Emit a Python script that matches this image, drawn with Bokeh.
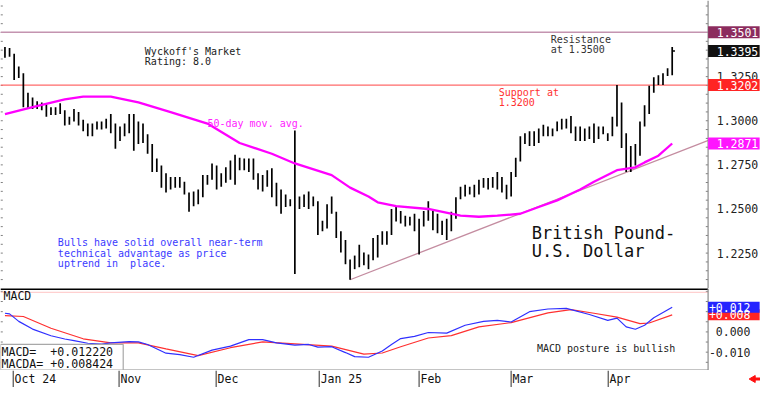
from bokeh.plotting import figure
from bokeh.layouts import column
from bokeh.models import Range1d
from bokeh.core.properties import value
from bokeh.embed import file_html
from bokeh.resources import INLINE

# ---------------- data ----------------
high = [1.3418, 1.3412, 1.3379, 1.3308, 1.3269, 1.3159, 1.3132, 1.3110, 1.3104, 1.3093,
        1.3077, 1.3077, 1.3099, 1.3060, 1.3022, 1.3066, 1.3049, 1.3005, 1.2984, 1.2984,
        1.2995, 1.2995, 1.3011, 1.3038, 1.2984, 1.2967, 1.2984, 1.3038, 1.3038, 1.2995,
        1.2984, 1.2923, 1.2868, 1.2786, 1.2747, 1.2703, 1.2681, 1.2681, 1.2681, 1.2654,
        1.2593, 1.2599, 1.2610, 1.2692, 1.2692, 1.2758, 1.2747, 1.2703, 1.2736, 1.2775,
        1.2808, 1.2791, 1.2786, 1.2786, 1.2786, 1.2703, 1.2692, 1.2720, 1.2731, 1.2648,
        1.2610, 1.2582, 1.2555, 1.2945, 1.2571, 1.2582, 1.2599, 1.2571, 1.2544, 1.2434,
        1.2527, 1.2571, 1.2484, 1.2374, 1.2324, 1.2214, 1.2236, 1.2297, 1.2253, 1.2242,
        1.2335, 1.2352, 1.2374, 1.2374, 1.2500, 1.2516, 1.2489, 1.2462, 1.2456, 1.2473,
        1.2445, 1.2489, 1.2544, 1.2489, 1.2473, 1.2434, 1.2445, 1.2484, 1.2566, 1.2626,
        1.2637, 1.2626, 1.2637, 1.2665, 1.2676, 1.2676, 1.2681, 1.2709, 1.2681, 1.2637,
        1.2709, 1.2791, 1.2912, 1.2929, 1.2940, 1.2940, 1.2956, 1.2978, 1.2967, 1.2956,
        1.2995, 1.3011, 1.3011, 1.3027, 1.2967, 1.2967, 1.2956, 1.2967, 1.2984, 1.2967,
        1.2967, 1.2929, 1.3022, 1.3203, 1.3104, 1.2929, 1.2857, 1.2868, 1.2995, 1.3088,
        1.3198, 1.3247, 1.3258, 1.3269, 1.3297, 1.3418]
low = [1.3357, 1.3363, 1.3231, 1.3242, 1.3077, 1.3066, 1.3066, 1.3066, 1.3060, 1.3022,
       1.3033, 1.3033, 1.3038, 1.2973, 1.2978, 1.2995, 1.2973, 1.2940, 1.2912, 1.2912,
       1.2951, 1.2951, 1.2956, 1.2929, 1.2841, 1.2885, 1.2912, 1.2929, 1.2830, 1.2868,
       1.2874, 1.2813, 1.2709, 1.2709, 1.2621, 1.2593, 1.2610, 1.2621, 1.2621, 1.2582,
       1.2484, 1.2516, 1.2527, 1.2566, 1.2637, 1.2665, 1.2610, 1.2626, 1.2648, 1.2665,
       1.2637, 1.2720, 1.2720, 1.2709, 1.2665, 1.2610, 1.2599, 1.2626, 1.2566, 1.2516,
       1.2473, 1.2511, 1.2516, 1.2132, 1.2500, 1.2511, 1.2500, 1.2516, 1.2352, 1.2374,
       1.2390, 1.2473, 1.2335, 1.2253, 1.2187, 1.2099, 1.2159, 1.2170, 1.2181, 1.2159,
       1.2209, 1.2225, 1.2297, 1.2297, 1.2352, 1.2429, 1.2418, 1.2401, 1.2407, 1.2374,
       1.2242, 1.2401, 1.2434, 1.2379, 1.2363, 1.2352, 1.2324, 1.2374, 1.2445, 1.2555,
       1.2571, 1.2582, 1.2566, 1.2582, 1.2621, 1.2610, 1.2621, 1.2610, 1.2593, 1.2555,
       1.2571, 1.2681, 1.2769, 1.2868, 1.2857, 1.2857, 1.2874, 1.2912, 1.2912, 1.2912,
       1.2940, 1.2951, 1.2956, 1.2929, 1.2885, 1.2885, 1.2885, 1.2896, 1.2874, 1.2896,
       1.2923, 1.2885, 1.2912, 1.2967, 1.2846, 1.2709, 1.2709, 1.2747, 1.2802, 1.2967,
       1.3038, 1.3159, 1.3203, 1.3203, 1.3253, 1.3258]
bar_x = list(range(len(high)))
last_close = 1.3395

ma_x = [0, 6, 13, 17, 23, 29, 36, 44, 51, 58, 63, 71, 75, 79, 81, 85, 92, 99, 103, 107,
        112, 116, 120, 125, 128, 133, 137, 139, 142, 145]
ma_y = [1.3038, 1.3077, 1.3121, 1.3137, 1.3137, 1.3104, 1.3049, 1.2984, 1.2874, 1.2813,
        1.2758, 1.2692, 1.2621, 1.2571, 1.2538, 1.2516, 1.2500, 1.2462, 1.2456, 1.2462,
        1.2473, 1.2511, 1.2549, 1.2610, 1.2654, 1.2720, 1.2736, 1.2764, 1.2802, 1.2871]
ma_last = 1.2871

trend_x = [75, 153]
trend_y = [1.2099, 1.2890]

resistance = 1.3501
support = 1.3202

price_ticks = [1.2250, 1.2500, 1.2750, 1.3000, 1.3250]
price_tick_labels = ["1.2250", "1.2500", "1.2750", "1.3000", "1.3250"]

macd_x = [0, 1, 3, 6, 10, 13, 15, 18, 21, 23, 27, 29, 31, 35, 38, 41, 45, 49, 53, 56,
          59, 63, 66, 68, 71, 74, 76, 79, 82, 84, 86, 89, 92, 96, 100, 104, 107, 110, 114, 118,
          122, 127, 131, 133, 135, 137, 139, 141, 145]
macd_y = [0.0092, 0.0089, 0.0052, 0.0014, -0.0019, -0.0035, -0.0043, -0.0056, -0.0060, -0.0054,
          -0.0048, -0.0049, -0.0062, -0.0105, -0.0112, -0.0125, -0.0090, -0.0070, -0.0038, -0.0038,
          -0.0054, -0.0065, -0.0062, -0.0075, -0.0073, -0.0102, -0.0122, -0.0125, -0.0094, -0.0062,
          -0.0033, -0.0022, -0.0003, -0.0006, 0.0033, 0.0052, 0.0057, 0.0049, 0.0100, 0.0113,
          0.0116, 0.0086, 0.0057, 0.0068, 0.0025, 0.0013, 0.0033, 0.0070, 0.0122]
sig_x = [0, 4, 10, 17, 23, 29, 35, 42, 49, 56, 63, 71, 78, 82, 86, 92, 97, 103, 110, 118,
         123, 128, 133, 138, 140, 145]
sig_y = [0.0080, 0.0076, 0.0018, -0.0034, -0.0054, -0.0054, -0.0084, -0.0117, -0.0078, -0.0049,
         -0.0059, -0.0070, -0.0110, -0.0104, -0.0073, -0.0030, -0.0018, 0.0025, 0.0046, 0.0094,
         0.0110, 0.0092, 0.0073, 0.0041, 0.0044, 0.0084]
macd_last = 0.012220
sig_last = 0.008424
macd_ticks = [0.0, -0.010]
macd_tick_labels = ["0.000", "-0.010"]

date_tick_x = [1.8, 24.8, 45.9, 68.3, 90.0, 110.0, 131.1]
date_labels = ["Oct 24", "Nov", "Dec", "Jan 25", "Feb", "Mar", "Apr"]

# ---------------- layout ----------------
X0, X1 = -0.968, 164.19
AXIS_X = 152.8
BOX_XC, BOX_W = 158.4, 11.2
LBL_X = 163.7
MONO = value("DejaVu Sans Mono")
W = 760
NB = "\u00a0"
xr = Range1d(X0, X1)


def mkfig(h, y0, y1):
    f = figure(width=W, height=h, x_range=xr, y_range=Range1d(y0, y1),
               output_backend="svg", toolbar_location=None,
               x_axis_location=None, y_axis_location=None, min_border=0,
               outline_line_color=None, background_fill_color="white",
               border_fill_color="white")
    f.grid.grid_line_color = None
    return f


# ---------------- price panel ----------------
PY0, PY1 = 1.204945, 1.368132
p = mkfig(288, PY0, PY1)

minor = [1.210 + 0.005 * i for i in range(32)]
p.segment(x0=[X0] * len(minor), y0=minor, x1=[X0 + 0.5] * len(minor), y1=minor,
          line_color="#808080", line_width=1)
p.segment(x0=[AXIS_X - 0.5] * len(minor), y0=minor, x1=[AXIS_X] * len(minor), y1=minor,
          line_color="#808080", line_width=1)

p.segment(x0=[X0], y0=[resistance], x1=[AXIS_X], y1=[resistance], line_color="#c494b0", line_width=1.6)
p.segment(x0=[X0], y0=[support], x1=[AXIS_X], y1=[support], line_color="#ff6a6a", line_width=1.3)
p.line(trend_x, trend_y, line_color="#c48ca0", line_width=1.3)

p.segment(x0=bar_x, y0=low, x1=bar_x, y1=high, line_color="black", line_width=1.7)
p.segment(x0=[bar_x[-1]], y0=[last_close], x1=[bar_x[-1] + 0.6], y1=[last_close],
          line_color="black", line_width=1.5)
p.line(ma_x, ma_y, line_color="#ff00ff", line_width=2.3)

p.segment(x0=[AXIS_X], y0=[PY0], x1=[AXIS_X], y1=[PY1], line_color="#8a8a8a", line_width=1.2)

p.text(x=[LBL_X] * len(price_ticks), y=price_ticks, text=price_tick_labels,
       text_font=MONO, text_font_size="11.5px", text_color="#222222",
       text_align="right", text_baseline="middle")

box_vals = [resistance, last_close, support, ma_last]
box_cols = ["#8c2c5e", "#111111", "#ff2424", "#ff14ff"]
p.rect(x=[BOX_XC] * 4, y=box_vals, width=BOX_W, height=12, height_units="screen",
       fill_color=box_cols, line_color=None)
p.text(x=[LBL_X] * 4, y=box_vals, text=["%.4f" % v for v in box_vals],
       text_font=MONO, text_font_size="11.5px", text_color="white",
       text_align="right", text_baseline="middle")

p.text(x=[30.4, 30.4], y=[1.3392, 1.3335], text=["Wyckoff's Market", "Rating: 8.0"],
       text_font=MONO, text_font_size="10px", text_color="#222222", text_baseline="middle")
p.text(x=[118.6, 118.6], y=[1.3458, 1.3403], text=["Resistance", "at 1.3500"],
       text_font=MONO, text_font_size="10px", text_color="#333333", text_baseline="middle")
p.text(x=[107.3, 107.3], y=[1.3161, 1.3104], text=["Support at", "1.3200"],
       text_font=MONO, text_font_size="10px", text_color="#ff3030", text_baseline="middle")
p.text(x=[44.0], y=[1.2982], text=["50-day mov. avg."],
       text_font=MONO, text_font_size="10px", text_color="#ff22ff", text_baseline="middle")
p.text(x=[11.5] * 3, y=[1.2308, 1.2249, 1.2192],
       text=["Bulls have solid overall near-term", "technical advantage as price",
             "uptrend in" + NB + NB + "place."],
       text_font=MONO, text_font_size="10px", text_color="#3b3bff", text_baseline="middle")
p.text(x=[114.5, 114.5], y=[1.2363, 1.2262], text=["British Pound-", "U.S. Dollar"],
       text_font=MONO, text_font_size="17px", text_color="#111111", text_baseline="middle")

# ---------------- MACD panel ----------------
MY0, MY1 = -0.019048, 0.021429
m = mkfig(82, MY0, MY1)
mminor = [-0.015 + 0.005 * i for i in range(8)]
m.segment(x0=[X0] * len(mminor), y0=mminor, x1=[X0 + 0.5] * len(mminor), y1=mminor,
          line_color="#808080", line_width=1)
m.segment(x0=[AXIS_X - 0.5] * len(mminor), y0=mminor, x1=[AXIS_X] * len(mminor), y1=mminor,
          line_color="#808080", line_width=1)
m.segment(x0=[X0], y0=[0.01952], x1=[AXIS_X], y1=[0.01952], line_color="#ffd0d0", line_width=1.2)
m.line(sig_x, sig_y, line_color="#ff3030", line_width=1.2)
m.line(macd_x, macd_y, line_color="#3030ff", line_width=1.2)
m.segment(x0=[X0], y0=[0.02115], x1=[AXIS_X], y1=[0.02115], line_color="black", line_width=2)
m.segment(x0=[X0], y0=[MY0 + 0.0002], x1=[AXIS_X], y1=[MY0 + 0.0002], line_color="#8a8a8a", line_width=1.2)
m.segment(x0=[AXIS_X], y0=[MY0], x1=[AXIS_X], y1=[MY1], line_color="#8a8a8a", line_width=1.2)

m.quad(left=[X0], right=[25.7], top=[-0.0062], bottom=[MY0 + 0.0002],
       fill_color="white", line_color="#a8a8a8", line_width=1.2)
m.text(x=[X0 + 0.2] * 2, y=[-0.00967, -0.01571],
       text=["MACD=" + NB + NB + ("%+.6f" % macd_last), "MACDA=" + NB + ("%+.6f" % sig_last)],
       text_font=MONO, text_font_size="11.6px", text_color="#111111", text_baseline="middle")
m.text(x=[-0.3], y=[0.0176], text=["MACD"], text_font=MONO, text_font_size="11.5px",
       text_color="#111111", text_baseline="middle")
m.text(x=[115.6], y=[-0.0081], text=["MACD posture is bullish"], text_font=MONO,
       text_font_size="10px", text_color="#222222", text_baseline="middle")

m.text(x=[162.0] * 2, y=macd_ticks, text=macd_tick_labels, text_font=MONO,
       text_font_size="11.5px", text_color="#222222", text_align="right", text_baseline="middle")
mbox_vals = [sig_last, macd_last]
m.rect(x=[BOX_XC] * 2, y=mbox_vals, width=BOX_W, height=11, height_units="screen",
       fill_color=["#ff2424", "#2424ff"], line_color=None)
m.text(x=[162.0] * 2, y=mbox_vals, text=["%+.3f" % v for v in mbox_vals], text_font=MONO,
       text_font_size="11.5px", text_color="white", text_align="right", text_baseline="middle")

# ---------------- date strip ----------------
DH = 17
d = mkfig(DH, 0, DH)
d.segment(x0=date_tick_x, y0=[0] * len(date_tick_x), x1=date_tick_x, y1=[DH] * len(date_tick_x),
          line_color="#505050", line_width=1.2)
d.text(x=[t + 0.3 for t in date_tick_x], y=[8.8] * len(date_tick_x), text=date_labels,
       text_font=MONO, text_font_size="11.5px", text_color="#111111",
       text_baseline="middle")
d.scatter(x=[162.6], y=[8.5], marker="triangle", size=7, angle=1.5708,
          fill_color="#ff1010", line_color="#ff1010")
d.segment(x0=[162.8], y0=[8.5], x1=[164.1], y1=[8.5], line_color="#ff1010", line_width=3)

layout = column(p, m, d, spacing=0)
open("out.html", "w").write(file_html(layout, INLINE))
